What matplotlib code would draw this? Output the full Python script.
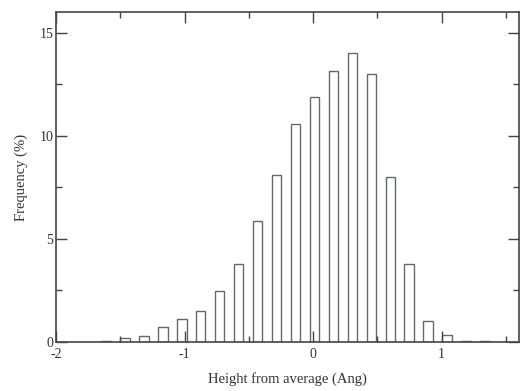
import matplotlib
matplotlib.use("Agg")
from matplotlib import pyplot as plt
from matplotlib.ticker import MultipleLocator
import numpy as np

# bin centres (Ang) and frequencies (%)
heights = [-1.612, -1.465, -1.317, -1.170, -1.022, -0.875, -0.727, -0.580,
           -0.432, -0.285, -0.137, 0.010, 0.158, 0.305, 0.453, 0.601,
           0.748, 0.895, 1.043, 1.191, 1.338]
freq = [0.05, 0.2, 0.3, 0.75, 1.1, 1.5, 2.45, 3.8,
        5.85, 8.1, 10.55, 11.9, 13.15, 14.0, 13.0, 8.0,
        3.8, 1.0, 0.32, 0.05, 0.07]

plt.rcParams['font.family'] = ['Liberation Serif', 'DejaVu Serif']
plt.rcParams['axes.unicode_minus'] = False
edge = '#5f6b6a'
axcol = '#444444'

fig = plt.figure(figsize=(5.2, 3.91), dpi=100)
ax = fig.add_axes([0.1077, 0.1253, 0.890, 0.844])

ax.bar(heights, freq, width=0.075, facecolor='white', edgecolor=edge, linewidth=1.0)

ax.set_xlim(-2, 1.6)
ax.set_ylim(0, 16)
ax.xaxis.set_major_locator(MultipleLocator(1))
ax.xaxis.set_minor_locator(MultipleLocator(0.5))
ax.yaxis.set_major_locator(MultipleLocator(5))
ax.yaxis.set_minor_locator(MultipleLocator(2.5))
ax.tick_params(which='both', direction='in', top=True, right=True,
               colors=axcol, labelcolor='#333333', labelsize=10)
ax.tick_params(which='major', length=8, width=1.0)
ax.tick_params(which='minor', length=4, width=1.0)
ax.tick_params(axis='y', which='major', pad=2)
ax.tick_params(axis='x', which='major', pad=4)
for s in ax.spines.values():
    s.set_color(axcol)
    s.set_linewidth(1.2)

ax.set_xlabel('Height from average (Ang)', fontsize=10.5, color='#333333', labelpad=8)
ax.set_ylabel('Frequency (%)', fontsize=10.5, color='#333333', labelpad=8)

fig.savefig('out.png', dpi=100)
